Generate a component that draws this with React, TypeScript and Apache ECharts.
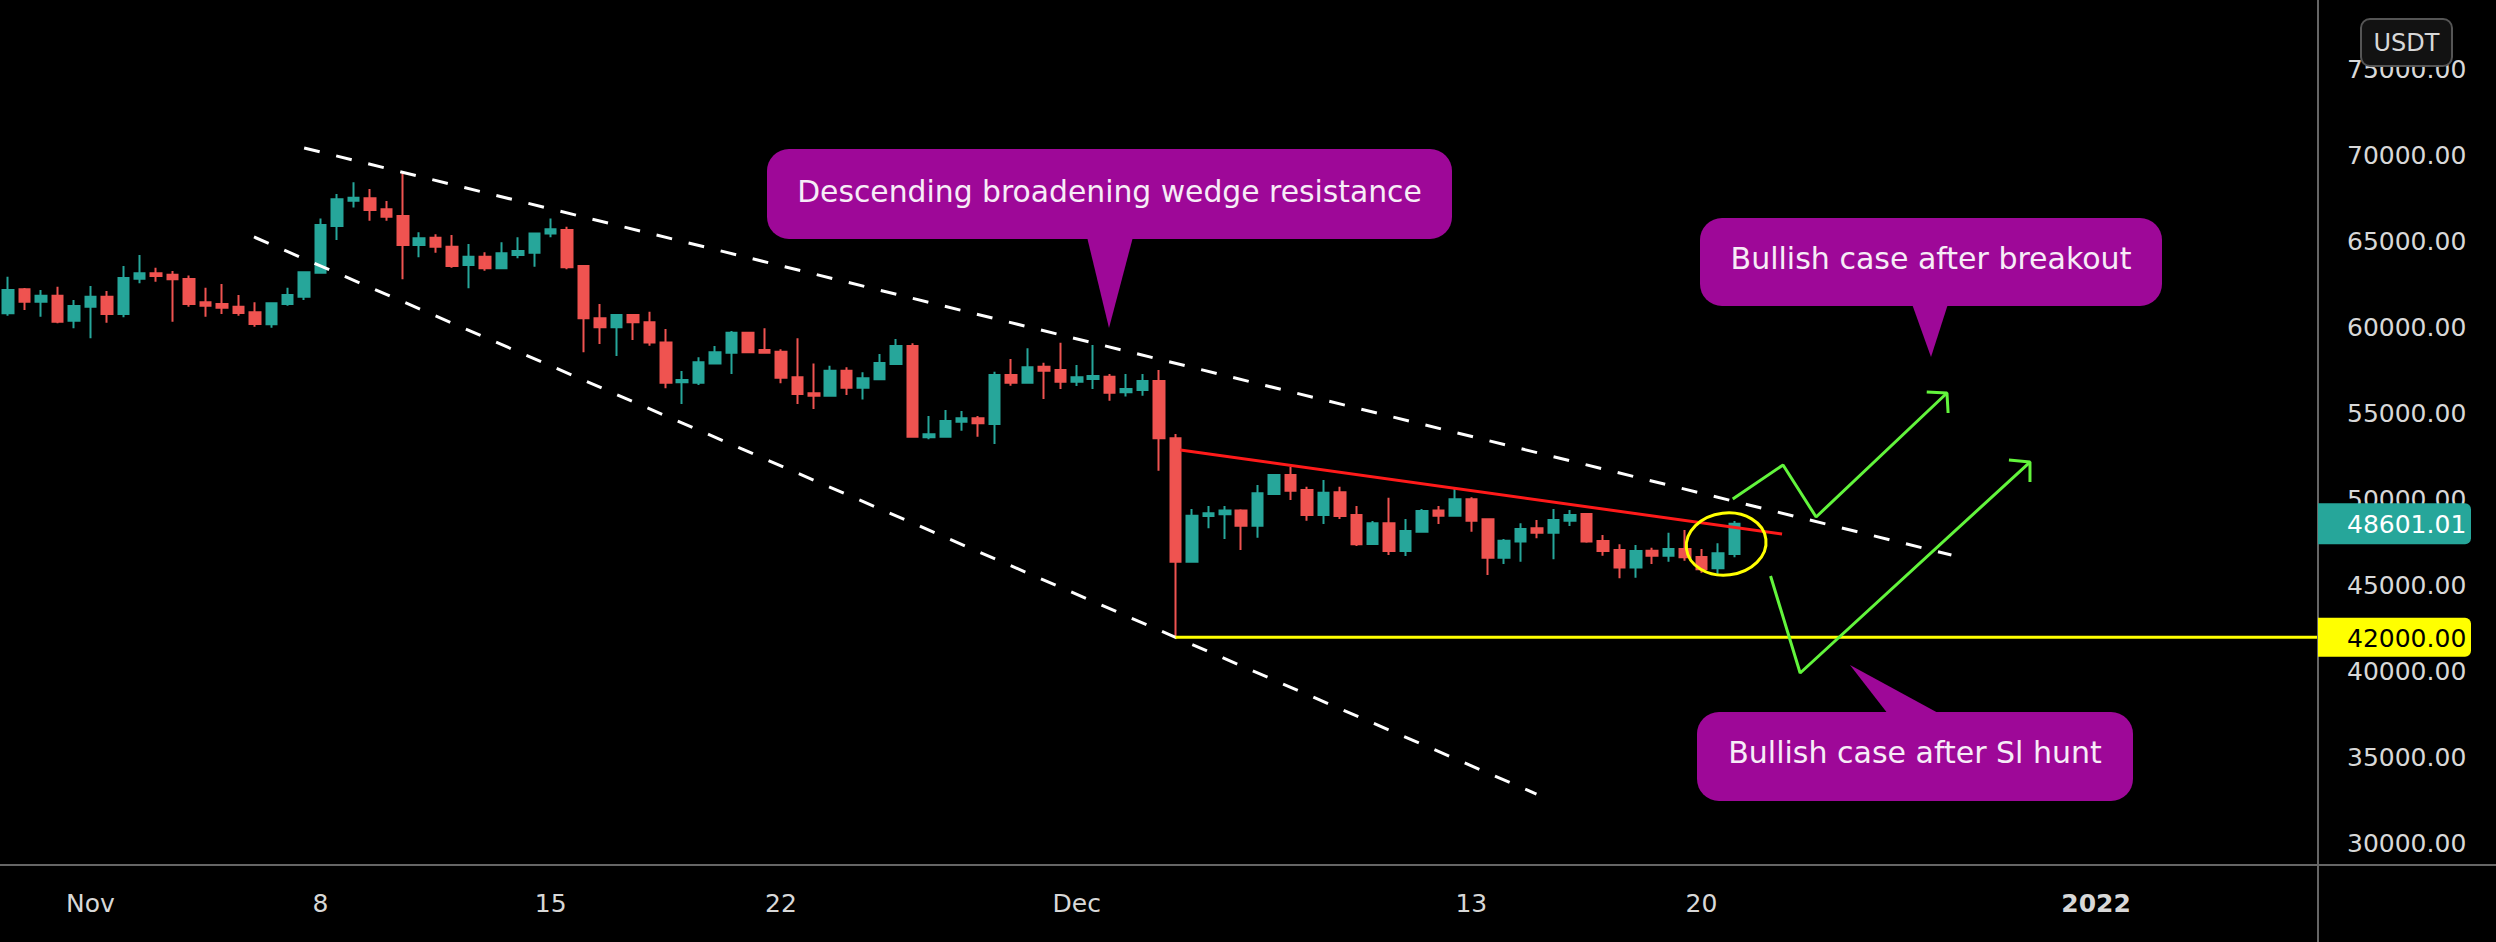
import React, { useEffect, useRef } from "react";
import * as echarts from "echarts";

// Half-day (12h) candles. Index k = half-days from Nov 1 00:00; first category is k = -5.
const FIRST_K = -5;
const N_CATS = 141;
const TICK_INDEX = [0, 14, 28, 42, 60, 84, 98, 122];
const TICK_LABELS = ["Nov", "8", "15", "22", "Dec", "13", "20", "2022"];
const Y_TICKS = [30000, 35000, 40000, 45000, 50000, 55000, 60000, 65000, 70000, 75000];

const OPEN = [
  60820, 62210, 61490, 61840, 60390, 61200, 61780, 60780, 62830, 63140,
  63060, 62810, 61460, 61360, 61200, 60880, 60180, 61360, 61780, 63180,
  65890, 67360, 67500, 66860, 66470, 64780, 65210, 64690, 63620, 64100,
  63430, 64200, 64340, 65460, 65660, 63560, 60530, 60010, 60720, 60300,
  59130, 56810, 56790, 57910, 58530, 59690, 58690, 58590, 57100, 56170,
  56030, 57480, 56500, 56990, 57870, 58920, 53620, 53650, 54520, 54720,
  54390, 57240, 56790, 57720, 57530, 56850, 57000, 57140, 56230, 56360,
  56890, 53560, 46390, 49050, 49150, 49360, 48480, 50320, 51430, 50560,
  49100, 50420, 49100, 47420, 48620, 47010, 48140, 49360, 49060, 50020,
  48860, 46630, 47560, 48330, 48080, 48770, 49160, 47600, 47070, 46050,
  47030, 46740, 47130, 46670, 46010, 46840,
];
const CLOSE = [
  62170, 61490, 61840, 60330, 61240, 61780, 60780, 62870, 63140, 62980,
  62790, 61360, 61260, 61140, 60840, 60200, 61400, 61880, 63200, 65950,
  67440, 67530, 66820, 66430, 64780, 65170, 64690, 63560, 64100, 63430,
  64300, 64440, 65460, 65700, 63490, 60530, 60010, 60720, 60300, 59130,
  56790, 56940, 57970, 58550, 59690, 58550, 58530, 57080, 56130, 56030,
  57480, 56500, 57040, 57930, 58920, 53650, 53790, 54560, 54720, 54430,
  57240, 56790, 57680, 57480, 56850, 57100, 57180, 56210, 56420, 56890,
  53560, 46390, 49060, 49200, 49360, 48480, 50370, 51430, 50520, 49100,
  50400, 49050, 47400, 48620, 47010, 48180, 49340, 49060, 50020, 48770,
  46630, 47610, 48290, 48080, 48820, 49110, 47560, 47010, 46050, 47010,
  46740, 47130, 46650, 45950, 46880, 48601.01,
];
const LOW = [
  60680, 61010, 60620, 60240, 59950, 59370, 60270, 60590, 62560, 62650,
  60330, 61200, 60620, 60780, 60680, 60040, 59980, 61260, 61590, 63180,
  65070, 66970, 66200, 66200, 62790, 64070, 64340, 63470, 62270, 63290,
  63370, 64010, 63520, 65230, 63370, 58550, 59040, 58340, 59270, 58940,
  56460, 55550, 56650, 57870, 57290, 58500, 58500, 56750, 55550, 55260,
  56030, 56070, 55820, 56940, 57870, 53650, 53500, 53620, 54000, 53650,
  53230, 56610, 56790, 55840, 56420, 56600, 56420, 55740, 55980, 56030,
  51680, 42000, 46390, 48330, 47710, 47070, 47790, 50270, 49980, 48770,
  48580, 48870, 47300, 47420, 46780, 46720, 48140, 48580, 49050, 48140,
  45620, 46260, 46390, 47750, 46530, 48470, 47500, 46740, 45430, 45460,
  46260, 46390, 46450, 45750, 45560, 46650,
];
const HIGH = [
  62940, 62290, 62170, 62360, 61590, 62400, 62110, 63560, 64200, 63470,
  63270, 63020, 62300, 62520, 61880, 61460, 61400, 62300, 63200, 66330,
  67750, 68430, 68040, 67340, 68950, 65520, 65410, 65370, 64840, 64360,
  64940, 65230, 65460, 66330, 65850, 63560, 61360, 60720, 60720, 60910,
  59910, 57470, 58260, 58920, 59790, 59750, 59950, 58730, 59370, 57910,
  57780, 57680, 57390, 58450, 59330, 59080, 54850, 55200, 55140, 54850,
  57430, 58160, 58790, 57950, 59110, 57820, 58980, 57290, 57290, 57290,
  57530, 53810, 49450, 49630, 49630, 49440, 50850, 51430, 51910, 50750,
  51140, 50750, 49630, 48760, 50110, 48870, 49450, 49630, 50710, 50130,
  48910, 47710, 48620, 48820, 49450, 49400, 49200, 47940, 47400, 47360,
  47210, 48080, 48230, 47130, 47460, 48760,
];

// Annotations in [half-day index, price]
const UPPER_WEDGE = [[13.0, 70420], [113.2, 46780]];
const LOWER_WEDGE = [[9.95, 65250], [87.96, 32900]];
const RED_TREND = [[66.3, 52880], [102.9, 48000]];
const SUPPORT_PRICE = 42000;
const SUPPORT_START = 66;
const ARROW_BREAKOUT = [[99.9, 50030], [102.96, 52010], [104.97, 48990], [112.93, 56190]];
const ARROW_BREAKOUT_HEAD = [[111.7, 56250], [112.93, 56190], [113.0, 55030]];
const ARROW_HUNT = [[102.2, 45560], [104.0, 39930], [117.98, 52180]];
const ARROW_HUNT_HEAD = [[116.7, 52300], [117.98, 52180], [117.98, 51020]];
const ELLIPSE_CENTER = [99.5, 47420];

const UP = "#26a69a";
const DOWN = "#ef5350";
const PURPLE = "#9e0898";
const AXIS_TEXT = "#d8d8d8";
const FONT = '"DejaVu Sans", sans-serif';

export default function App() {
  const ref = useRef<HTMLDivElement>(null);
  useEffect(() => {
    const chart = echarts.init(ref.current!, null, { renderer: "svg" });
    const cats = Array.from({ length: N_CATS }, (_, i) => String(i + FIRST_K));
    const candles = OPEN.map((o, i) => [o, CLOSE[i], LOW[i], HIGH[i]]);
    const xMax = FIRST_K + N_CATS - 0.5;
    const lineSeries = (data: number[][], color: string, width: number, type: any = "solid") => ({
      type: "line",
      xAxisIndex: 1,
      yAxisIndex: 0,
      data,
      symbol: "none",
      silent: true,
      z: 5,
      lineStyle: { color, width, type },
    });
    const option: any = {
      animation: false,
      backgroundColor: "#000",
      grid: { left: -1, right: 178, top: 0, bottom: 77, containLabel: false },
      xAxis: [
        {
          type: "category",
          data: cats,
          axisLine: { show: false },
          axisTick: { show: false },
          splitLine: { show: false },
          axisLabel: {
            interval: (i: number) => TICK_INDEX.includes(i + FIRST_K),
            formatter: (v: string) => {
              const idx = TICK_INDEX.indexOf(Number(v));
              if (idx < 0) return "";
              const t = TICK_LABELS[idx];
              return /^\d{4}$/.test(t) ? "{b|" + t + "}" : t;
            },
            rich: { b: { fontWeight: "bold", fontSize: 25, fontFamily: FONT, color: AXIS_TEXT } },
            color: AXIS_TEXT,
            fontSize: 25,
            fontFamily: FONT,
            margin: 26,
          },
        },
        { type: "value", min: FIRST_K - 0.5, max: xMax, show: false },
      ],
      yAxis: {
        type: "value",
        position: "right",
        min: 28780,
        max: 79013,
        splitLine: { show: false },
        axisLine: { show: false },
        axisTick: { show: false },
        axisLabel: {
          customValues: Y_TICKS,
          formatter: (v: number) => v.toFixed(2),
          color: AXIS_TEXT,
          fontSize: 25,
          fontFamily: FONT,
          margin: 29,
          align: "left",
        },
      },
      series: [
        {
          type: "candlestick",
          data: candles,
          barWidth: 11,
          z: 3,
          itemStyle: { color: UP, color0: DOWN, borderColor: UP, borderColor0: DOWN, borderWidth: 2 },
        },
        lineSeries(UPPER_WEDGE, "#ffffff", 3, [16, 17]),
        lineSeries(LOWER_WEDGE, "#ffffff", 3, [16, 17]),
        lineSeries(RED_TREND, "#ff1a1a", 3),
        lineSeries([[SUPPORT_START, SUPPORT_PRICE], [xMax, SUPPORT_PRICE]], "#ffff00", 3),
        lineSeries(ARROW_BREAKOUT, "#62f53c", 3),
        lineSeries(ARROW_BREAKOUT_HEAD, "#62f53c", 3),
        lineSeries(ARROW_HUNT, "#62f53c", 3),
        lineSeries(ARROW_HUNT_HEAD, "#62f53c", 3),
      ],
    };
    chart.setOption(option);

    const yLast = chart.convertToPixel({ yAxisIndex: 0 }, CLOSE[CLOSE.length - 1]) as number;
    const ySup = chart.convertToPixel({ yAxisIndex: 0 }, SUPPORT_PRICE) as number;
    const ec = chart.convertToPixel({ seriesIndex: 1 }, ELLIPSE_CENTER) as number[];

    const callout = (box: any, tail: number[][], text: string, tx: number, ty: number, fs: number) => [
      { type: "rect", z: 100, shape: { ...box, r: 22 }, style: { fill: PURPLE } },
      { type: "polygon", z: 100, shape: { points: tail }, style: { fill: PURPLE } },
      {
        type: "text",
        z: 101,
        style: { text, x: tx, y: ty, fill: "#f7ecf7", font: fs + "px " + FONT, align: "center", verticalAlign: "middle" },
      },
    ];

    const graphic: any[] = [
      { type: "line", z: 90, shape: { x1: 2318, y1: 0, x2: 2318, y2: 942 }, style: { stroke: "#666", lineWidth: 2 } },
      { type: "line", z: 90, shape: { x1: 0, y1: 865, x2: 2496, y2: 865 }, style: { stroke: "#666", lineWidth: 2 } },
      {
        type: "ellipse",
        z: 95,
        x: ec[0],
        y: ec[1],
        rotation: 0.12,
        shape: { cx: 0, cy: 0, rx: 40, ry: 31 },
        style: { fill: "none", stroke: "#ffff00", lineWidth: 3 },
      },
      ...callout({ x: 767, y: 149, width: 685, height: 90 }, [[1087, 237], [1133, 237], [1109, 328]], "Descending broadening wedge resistance", 1109.5, 191, 29.8),
      ...callout({ x: 1700, y: 218, width: 462, height: 88 }, [[1912, 304], [1948, 304], [1931, 357]], "Bullish case after breakout", 1931, 258, 30),
      ...callout({ x: 1697, y: 712, width: 436, height: 89 }, [[1888, 714], [1940, 714], [1850, 665]], "Bullish case after Sl hunt", 1915, 752, 30),
      { type: "rect", z: 110, shape: { x: 2318, y: yLast - 20.5, width: 153, height: 41, r: [0, 6, 6, 0] }, style: { fill: UP } },
      {
        type: "text",
        z: 111,
        style: { text: CLOSE[CLOSE.length - 1].toFixed(2), x: 2347, y: yLast + 1, fill: "#ffffff", font: "25px " + FONT, align: "left", verticalAlign: "middle" },
      },
      { type: "rect", z: 110, shape: { x: 2318, y: ySup - 19.5, width: 153, height: 39, r: [0, 6, 6, 0] }, style: { fill: "#ffff00" } },
      {
        type: "text",
        z: 111,
        style: { text: SUPPORT_PRICE.toFixed(2), x: 2347, y: ySup + 1, fill: "#000000", font: "25px " + FONT, align: "left", verticalAlign: "middle" },
      },
      { type: "rect", z: 110, shape: { x: 2361, y: 19, width: 91, height: 47, r: 9 }, style: { fill: "#121212", stroke: "#555", lineWidth: 2 } },
      {
        type: "text",
        z: 111,
        style: { text: "USDT", x: 2406.5, y: 43, fill: AXIS_TEXT, font: "24px " + FONT, align: "center", verticalAlign: "middle" },
      },
    ];
    chart.setOption({ graphic });
    return () => chart.dispose();
  }, []);
  return (
    <div
      ref={ref}
      style={{ position: "fixed", left: 0, top: 0, width: 2496, height: 942, background: "#000" }}
    />
  );
}
